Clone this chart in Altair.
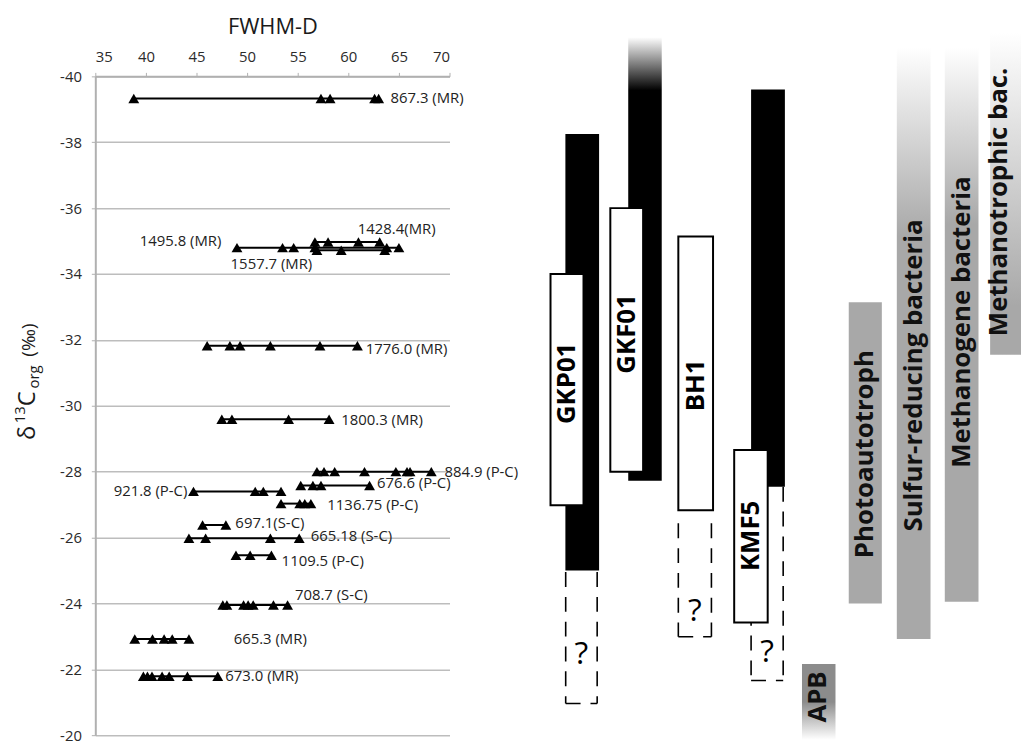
import altair as alt
import pandas as pd

# ---------------- left panel: FWHM-D vs d13C(org) ----------------
SAMPLES = ["867.3 (MR)", "1428.4(MR)", "1495.8 (MR)", "1557.7 (MR)", "1776.0 (MR)",
           "1800.3 (MR)", "884.9 (P-C)", "676.6 (P-C)", "921.8 (P-C)", "1136.75 (P-C)",
           "697.1(S-C)", "665.18 (S-C)", "1109.5 (P-C)", "708.7 (S-C)", "665.3 (MR)",
           "673.0 (MR)"]
DELTA = [-39.33, -34.97, -34.80, -34.72, -31.82, -29.59, -28.00, -27.58, -27.40, -27.03,
         -26.38, -25.98, -25.46, -23.95, -22.92, -21.79]
FWHM = [
    [38.8, 57.3, 58.2, 62.6, 63.0],
    [56.7, 58.0, 61.0, 63.1],
    [49.0, 53.5, 54.6, 56.7, 63.8, 65.0],
    [56.9, 59.3, 63.6],
    [46.05, 48.3, 49.3, 52.3, 57.2, 60.9],
    [47.5, 48.5, 54.1, 58.1],
    [56.9, 57.6, 58.65, 61.6, 64.7, 65.8, 66.1, 68.2],
    [55.3, 56.5, 57.3, 62.1],
    [44.7, 50.8, 51.6, 53.35],
    [53.35, 55.2, 55.7, 56.3],
    [45.6, 47.9],
    [44.25, 45.9, 52.3, 55.15],
    [48.9, 50.3, 52.4],
    [47.6, 48.0, 49.65, 50.1, 50.6, 52.6, 54.0],
    [38.9, 40.65, 41.8, 42.6, 44.25],
    [39.75, 40.15, 40.6, 41.6, 42.3, 44.1, 47.1],
]
LABEL_X = [64.17, 60.94, 47.46, 48.37, 61.72, 59.30, 69.5, 62.83, 44.09, 57.93,
           48.84, 56.29, 53.41, 54.72, 48.67, 47.85]
LABEL_Y = [-39.33, -35.36, -35.00, -34.31, -31.73, -29.57, -28.00, -27.64, -27.40, -26.98,
           -26.43, -26.03, -25.28, -24.25, -22.92, -21.79]
LABEL_ALIGN = ["left", "left", "right", "left", "left", "left", "left", "left", "right", "left",
               "left", "left", "left", "left", "left", "left"]

# ---------------- right panel: ranges ----------------
BLACK_NAMES = ["GKP01", "GKF01", "KMF5"]
BLACK_X1 = [81.45, 87.66, 99.80]
BLACK_X2 = [84.78, 90.97, 103.14]
BLACK_TOP = [-38.25, -41.19, -39.60]
BLACK_BOTTOM = [-25.00, -27.72, -27.54]
BLACK_FADE = [False, True, False]

WHITE_NAMES = ["GKP01", "GKF01", "BH1", "KMF5"]
WHITE_X1 = [79.98, 85.89, 92.61, 98.13]
WHITE_X2 = [83.24, 89.13, 96.04, 101.44]
WHITE_TOP = [-34.00, -36.00, -35.14, -28.66]
WHITE_BOTTOM = [-26.98, -28.00, -26.83, -23.42]
WHITE_LABEL_Y = [-30.68, -32.18, -30.62, -26.05]

DASH_NAMES = ["GKP01", "BH1", "KMF5"]
DASH_X1 = [81.48, 92.61, 99.80]
DASH_X2 = [84.59, 95.88, 102.97]
DASH_TOP = [-24.95, -26.43, -27.54]
DASH_BOTTOM = [-20.96, -22.99, -21.66]
DASH_Q_Y = [-22.46, -23.78, -22.51]

GRAY_NAMES = ["Photoautotroph", "Sulfur-reducing bacteria", "Methanogene bacteria",
              "Methanotrophic bac.", "APB"]
GRAY_X1 = [109.45, 114.20, 118.94, 123.42, 104.83]
GRAY_X2 = [112.72, 117.53, 122.27, 126.69, 108.14]
GRAY_TOP = [-33.14, -40.89, -40.89, -41.34, -22.16]
GRAY_BOTTOM = [-24.00, -22.92, -24.05, -31.55, -19.86]
GRAY_LABEL_X = [111.09, 115.87, 120.60, 124.35, 106.45]
GRAY_LABEL_Y = [-28.53, -30.92, -32.54, -36.19, -21.16]
GRAY_STYLE = ["solid", "fadeTop", "fadeTop", "fadeAll", "fadeBottom"]

# y-axis title anchor (data units)
YTITLE_X = 29.05
YTITLE_Y = -28.96

# ---------------- tables ----------------
pts = pd.DataFrame(
    [{"sample": s, "delta": d, "fwhm": f} for s, d, fl in zip(SAMPLES, DELTA, FWHM) for f in fl]
)
labels = pd.DataFrame({"text": SAMPLES, "lx": LABEL_X, "ly": LABEL_Y, "align": LABEL_ALIGN})
black = pd.DataFrame({"name": BLACK_NAMES, "x1": BLACK_X1, "x2": BLACK_X2,
                      "top": BLACK_TOP, "bottom": BLACK_BOTTOM, "fade": BLACK_FADE})
white = pd.DataFrame({"name": WHITE_NAMES, "x1": WHITE_X1, "x2": WHITE_X2,
                      "top": WHITE_TOP, "bottom": WHITE_BOTTOM, "ly": WHITE_LABEL_Y})
white["cx"] = (white["x1"] + white["x2"]) / 2
dash = pd.DataFrame({"name": DASH_NAMES, "x1": DASH_X1, "x2": DASH_X2,
                     "top": DASH_TOP, "bottom": DASH_BOTTOM, "qy": DASH_Q_Y})
dash["cx"] = (dash["x1"] + dash["x2"]) / 2
dash["q"] = "?"
gray = pd.DataFrame({"name": GRAY_NAMES, "x1": GRAY_X1, "x2": GRAY_X2, "top": GRAY_TOP,
                     "bottom": GRAY_BOTTOM, "lx": GRAY_LABEL_X, "ly": GRAY_LABEL_Y,
                     "style": GRAY_STYLE})
ytitle = pd.DataFrame({"x": [YTITLE_X], "y": [YTITLE_Y]})

# ---------------- scales / axes ----------------
FONT = "Open Sans"
XS = alt.Scale(domain=[35, 70], nice=False, zero=False)
YS = alt.Scale(domain=[-40, -20], nice=False, zero=False, reverse=True)
X_AXIS = alt.Axis(orient="top", values=list(range(35, 71, 5)), title="FWHM-D", grid=False,
                  labelExpr="'' + datum.value", labelFont=FONT, labelFontSize=15,
                  labelColor="#2a2a2a", titleFont=FONT, titleFontSize=22,
                  titleFontWeight="normal", titleColor="#1a1a1a", titlePadding=11,
                  domainColor="#b0b0b0", domainWidth=2, tickColor="#b0b0b0", tickSize=4,
                  labelPadding=8)
Y_AXIS = alt.Axis(values=list(range(-40, -19, 2)), title=None, grid=True,
                  gridColor="#bdbdbd", gridWidth=1.5, labelExpr="'' + datum.value",
                  labelFont=FONT, labelFontSize=15, labelColor="#2a2a2a",
                  domainColor="#b0b0b0", domainWidth=2, tickColor="#b0b0b0", tickSize=4,
                  labelPadding=10)


def X(f):
    return alt.X(f, type="quantitative", scale=XS, axis=X_AXIS)


def Y(f):
    return alt.Y(f, type="quantitative", scale=YS, axis=Y_AXIS)


def grad(stops):
    return alt.LinearGradient(gradient="linear", x1=0, x2=0, y1=0, y2=1,
                              stops=[alt.GradientStop(color=c, offset=o) for o, c in stops])


GRAY = "#a8a8a8"
layers = []

# dashed "?" boxes (left, right, bottom)
dash_base = alt.Chart(dash)
dstyle = dict(color="black", strokeWidth=1.6, strokeDash=[15, 10])
layers.append(dash_base.mark_rule(**dstyle).encode(x=X("x1"), y=Y("top"), y2=alt.Y2("bottom")))
layers.append(dash_base.mark_rule(**dstyle).encode(x=X("x2"), y=Y("top"), y2=alt.Y2("bottom")))
layers.append(dash_base.mark_rule(**dstyle).encode(x=X("x1"), x2=alt.X2("x2"), y=Y("bottom")))
layers.append(dash_base.mark_text(font=FONT, fontSize=32, color="black", align="center",
                                  baseline="middle").encode(x=X("cx"), y=Y("qy"), text="q:N"))

# black bars
layers.append(alt.Chart(black).transform_filter("!datum.fade").mark_rect(color="black")
              .encode(x=X("x1"), x2=alt.X2("x2"), y=Y("top"), y2=alt.Y2("bottom")))
layers.append(alt.Chart(black).transform_filter("datum.fade")
              .mark_rect(fill=grad([(0, "#ffffff"), (0.12, "#000000"), (1, "#000000")]))
              .encode(x=X("x1"), x2=alt.X2("x2"), y=Y("top"), y2=alt.Y2("bottom")))

# white boxes
layers.append(alt.Chart(white).mark_rect(fill="white", stroke="black", strokeWidth=2)
              .encode(x=X("x1"), x2=alt.X2("x2"), y=Y("top"), y2=alt.Y2("bottom")))
layers.append(alt.Chart(white).mark_text(font=FONT, fontSize=26, fontWeight="bold",
                                         angle=270, align="center", baseline="middle",
                                         color="black")
              .encode(x=X("cx"), y=Y("ly"), text="name:N"))

# gray organism bars
gstyles = {
    "solid": GRAY,
    "fadeTop": grad([(0, "#ffffff"), (0.32, GRAY), (1, GRAY)]),
    "fadeAll": grad([(0, "#ffffff"), (0.85, GRAY), (1, GRAY)]),
    "fadeBottom": grad([(0, "#8c8c8c"), (0.5, "#8c8c8c"), (1, "#ffffff")]),
}
for key, fill in gstyles.items():
    layers.append(alt.Chart(gray).transform_filter(f"datum.style == '{key}'")
                  .mark_rect(fill=fill)
                  .encode(x=X("x1"), x2=alt.X2("x2"), y=Y("top"), y2=alt.Y2("bottom")))
layers.append(alt.Chart(gray).mark_text(font=FONT, fontSize=26, fontWeight="bold", angle=270,
                                        align="center", baseline="middle", color="#111111")
              .encode(x=X("lx"), y=Y("ly"), text="name:N"))

# FWHM series
layers.append(alt.Chart(pts).mark_line(color="black", strokeWidth=2)
              .encode(x=X("fwhm"), y=Y("delta"), detail="sample:N"))
layers.append(alt.Chart(pts).mark_point(shape="triangle-up", filled=True, color="black",
                                        size=120, opacity=1)
              .encode(x=X("fwhm"), y=Y("delta")))
for al in ["left", "right"]:
    layers.append(alt.Chart(labels).transform_filter(f"datum.align == '{al}'")
                  .mark_text(font=FONT, fontSize=15, color="#222222", align=al,
                             baseline="middle")
                  .encode(x=X("lx"), y=Y("ly"), text="text:N"))

# y-axis title: δ13Corg (‰) with super/subscript
ypieces = [("δ", 24, 0, 0), ("13", 15, 17, -10), ("C", 24, 34, 0), ("org", 15, 52, 4),
           ("(‰)", 19, 84, 0)]
for txt, fs, ddx, ddy in ypieces:
    layers.append(alt.Chart(ytitle).mark_text(font=FONT, fontSize=fs, angle=270, align="left",
                                              baseline="alphabetic", dx=ddx, dy=ddy,
                                              color="#1a1a1a", text=txt)
                  .encode(x=X("x"), y=Y("y")))

chart = alt.layer(*layers).properties(
    width=357, height=664,
    autosize=alt.AutoSizeParams(type="none"),
    padding={"left": 88, "top": 66, "right": 576, "bottom": 6},
).configure_view(stroke=None)

chart.save("out.html", embed_options={"renderer": "svg", "actions": False})
